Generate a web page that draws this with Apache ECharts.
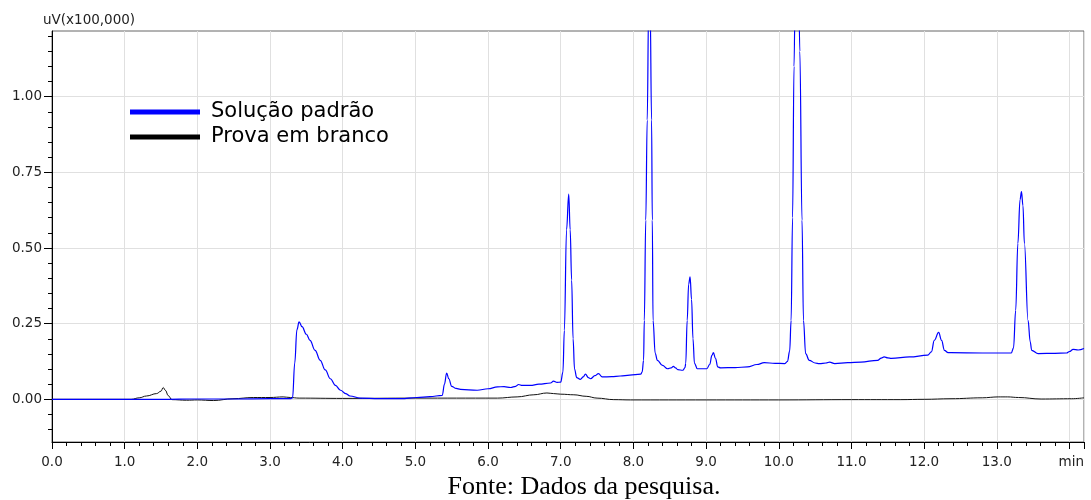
<!DOCTYPE html>
<html>
<head>
<meta charset="utf-8">
<script src="https://cdn.jsdelivr.net/npm/echarts@6/dist/echarts.min.js"></script>
<style>
html,body{margin:0;padding:0;background:#fff;}
#chart{width:1091px;height:500px;}
</style>
</head>
<body>
<div id="chart"></div>
<script>
// ---- data ----
const seriesNames = ['Solução padrão', 'Prova em branco'];

const padraoT = [0.00,1.00,1.60,1.90,2.10,2.50,3.00,3.28,3.31,3.34,3.37,3.40,3.44,3.50,3.55,3.62,3.69,3.76,3.83,3.90,3.97,4.04,4.10,4.24,4.50,4.80,5.02,5.20,5.37,5.40,5.43,5.46,5.50,5.56,5.62,5.85,6.00,6.13,6.22,6.31,6.38,6.42,6.47,6.58,6.70,6.86,6.90,6.95,7.00,7.03,7.05,7.08,7.11,7.13,7.15,7.17,7.19,7.22,7.27,7.31,7.34,7.38,7.41,7.47,7.52,7.57,7.70,7.82,7.95,8.10,8.12,8.14,8.15,8.17,8.19,8.21,8.22,8.23,8.25,8.26,8.27,8.30,8.33,8.40,8.47,8.52,8.55,8.58,8.61,8.68,8.71,8.72,8.74,8.76,8.78,8.80,8.82,8.84,8.88,9.01,9.05,9.08,9.10,9.13,9.16,9.20,9.40,9.57,9.70,9.80,9.95,10.08,10.12,10.15,10.17,10.19,10.21,10.23,10.25,10.27,10.29,10.32,10.34,10.37,10.42,10.50,10.56,10.65,10.70,10.77,10.95,11.13,11.36,11.41,11.45,11.50,11.55,11.80,12.05,12.10,12.14,12.20,12.24,12.28,12.33,12.37,12.80,13.20,13.23,13.26,13.29,13.32,13.34,13.36,13.38,13.43,13.46,13.48,13.57,13.80,13.96,14.00,14.05,14.12,14.20];
const padraoV = [0.000,0.000,0.000,0.001,0.001,0.001,0.002,0.002,0.005,0.120,0.230,0.256,0.240,0.215,0.195,0.162,0.129,0.097,0.068,0.046,0.030,0.019,0.011,0.004,0.002,0.002,0.006,0.009,0.013,0.050,0.087,0.068,0.043,0.036,0.033,0.030,0.035,0.041,0.042,0.039,0.043,0.049,0.046,0.046,0.050,0.054,0.060,0.056,0.057,0.090,0.228,0.560,0.678,0.560,0.394,0.200,0.100,0.072,0.066,0.074,0.083,0.072,0.068,0.078,0.085,0.074,0.075,0.077,0.080,0.083,0.090,0.129,0.261,0.592,0.923,1.300,1.400,1.300,0.923,0.592,0.261,0.152,0.129,0.112,0.101,0.104,0.109,0.104,0.098,0.096,0.105,0.119,0.261,0.380,0.405,0.330,0.200,0.119,0.101,0.101,0.115,0.145,0.154,0.135,0.107,0.104,0.105,0.107,0.115,0.121,0.119,0.118,0.125,0.160,0.261,0.600,1.100,1.450,1.500,1.450,1.150,0.592,0.261,0.151,0.129,0.120,0.118,0.120,0.123,0.118,0.121,0.123,0.129,0.136,0.140,0.137,0.135,0.140,0.146,0.157,0.195,0.221,0.195,0.162,0.154,0.154,0.153,0.153,0.170,0.294,0.515,0.660,0.686,0.640,0.515,0.261,0.190,0.162,0.151,0.152,0.153,0.158,0.165,0.163,0.168];

const brancoT = [0.00,1.09,1.20,1.30,1.44,1.50,1.53,1.56,1.60,1.65,1.85,2.00,2.22,2.49,2.77,3.00,3.18,3.28,3.40,4.00,5.00,6.13,6.40,6.63,6.81,6.90,7.00,7.18,7.35,7.50,7.73,7.96,9.00,10.00,11.00,11.68,12.00,12.37,12.80,13.02,13.15,13.30,13.61,14.03,14.20];
const brancoV = [0.000,0.000,0.005,0.011,0.019,0.027,0.039,0.030,0.012,-0.001,-0.003,-0.002,-0.004,0.002,0.006,0.006,0.008,0.006,0.004,0.003,0.004,0.004,0.008,0.015,0.021,0.019,0.017,0.015,0.010,0.004,-0.001,-0.002,-0.002,-0.002,-0.001,-0.001,0.000,0.002,0.005,0.008,0.008,0.006,0.001,0.002,0.005];

const yMajorTicks = [0, 0.25, 0.50, 0.75, 1.00];
const yMinorTicks = [-0.10,-0.05,0.05,0.10,0.15,0.20,0.30,0.35,0.40,0.45,0.55,0.60,0.65,0.70,0.80,0.85,0.90,0.95,1.05,1.10,1.15,1.20];
const xMin = 0, xMax = 14.2, yMin = -0.141, yMax = 1.217;
const yUnitLabel = 'uV(x100,000)';
const xUnitLabel = 'min';
const caption = 'Fonte: Dados da pesquisa.';

// ---- build ----
const zip = (t, v) => t.map((x, i) => [x, v[i]]);
const font = 'DejaVu Sans';

const chart = echarts.init(document.getElementById('chart'), null, {renderer: 'canvas'});
chart.setOption({
  backgroundColor: '#ffffff',
  animation: false,
  grid: {left: 52, right: 7, top: 31, bottom: 58, show: true, borderColor: '#666', borderWidth: 1, containLabel: false},
  legend: {
    data: seriesNames,
    orient: 'vertical',
    left: 130, top: 101, padding: 0,
    itemWidth: 70, itemHeight: 5, itemGap: 3,
    icon: 'rect',
    textStyle: {fontFamily: font, fontSize: 21, color: '#000', lineHeight: 22, padding: [0,0,0,6]}
  },
  xAxis: [
    {
      type: 'value', min: xMin, max: xMax, interval: 1, position: 'bottom',
      axisLine: {show: true, onZero: false, lineStyle: {color: '#000', width: 1}},
      axisTick: {show: true, inside: false, length: 7, lineStyle: {color: '#000'}},
      axisLabel: {
        show: true, margin: 13, color: '#222', fontFamily: font, fontSize: 13.5,
        alignMaxLabel: 'right', showMaxLabel: true, hideOverlap: false,
        formatter: v => (v > xMax - 0.1 ? xUnitLabel : (Math.abs(v - 14) < 1e-6 ? '' : v.toFixed(1)))
      },
      splitLine: {show: true, lineStyle: {color: '#e0e0e0', width: 1}}
    },
    {
      type: 'value', min: xMin, max: xMax, interval: 0.2, position: 'bottom',
      axisLine: {show: false, onZero: false},
      axisTick: {show: true, inside: false, length: 4, lineStyle: {color: '#000'}},
      axisLabel: {show: false},
      splitLine: {show: false}
    }
  ],
  yAxis: [
    {
      type: 'value', min: yMin, max: yMax, position: 'left',
      axisLine: {show: true, onZero: false, lineStyle: {color: '#000', width: 1}},
      axisTick: {show: true, inside: false, length: 8, customValues: yMajorTicks, lineStyle: {color: '#000'}},
      axisLabel: {show: true, margin: 10, customValues: yMajorTicks, color: '#222', fontFamily: font, fontSize: 13.5,
        formatter: v => v.toFixed(2)},
      splitLine: {show: true, lineStyle: {color: '#e0e0e0', width: 1}}
    },
    {
      type: 'value', min: yMin, max: yMax, position: 'left', offset: 0,
      axisLine: {show: false, onZero: false},
      axisTick: {show: true, inside: false, length: 4, customValues: yMinorTicks, lineStyle: {color: '#000'}},
      axisLabel: {show: false},
      splitLine: {show: false}
    }
  ],
  graphic: [
    {type: 'text', left: 43, top: 13, style: {text: yUnitLabel, fill: '#222', font: '13.5px "DejaVu Sans"'}},
    {type: 'text', x: 584, y: 487, style: {text: caption, fill: '#000', font: '26px "Liberation Serif"', textAlign: 'center', textVerticalAlign: 'middle'}}
  ],
  series: [
    {
      name: seriesNames[1], type: 'line', xAxisIndex: 0, yAxisIndex: 0,
      data: zip(brancoT, brancoV), showSymbol: false, symbol: 'none',
      smooth: 0.4, smoothMonotone: 'x', clip: true,
      lineStyle: {color: '#111', width: 1}, itemStyle: {color: '#000'}
    },
    {
      name: seriesNames[0], type: 'line', xAxisIndex: 0, yAxisIndex: 0,
      data: zip(padraoT, padraoV), showSymbol: false, symbol: 'none',
      smooth: 0.4, smoothMonotone: 'x', clip: true,
      lineStyle: {color: '#0000ff', width: 1.2}, itemStyle: {color: '#0000ff'}
    }
  ]
});
</script>
</body>
</html>
